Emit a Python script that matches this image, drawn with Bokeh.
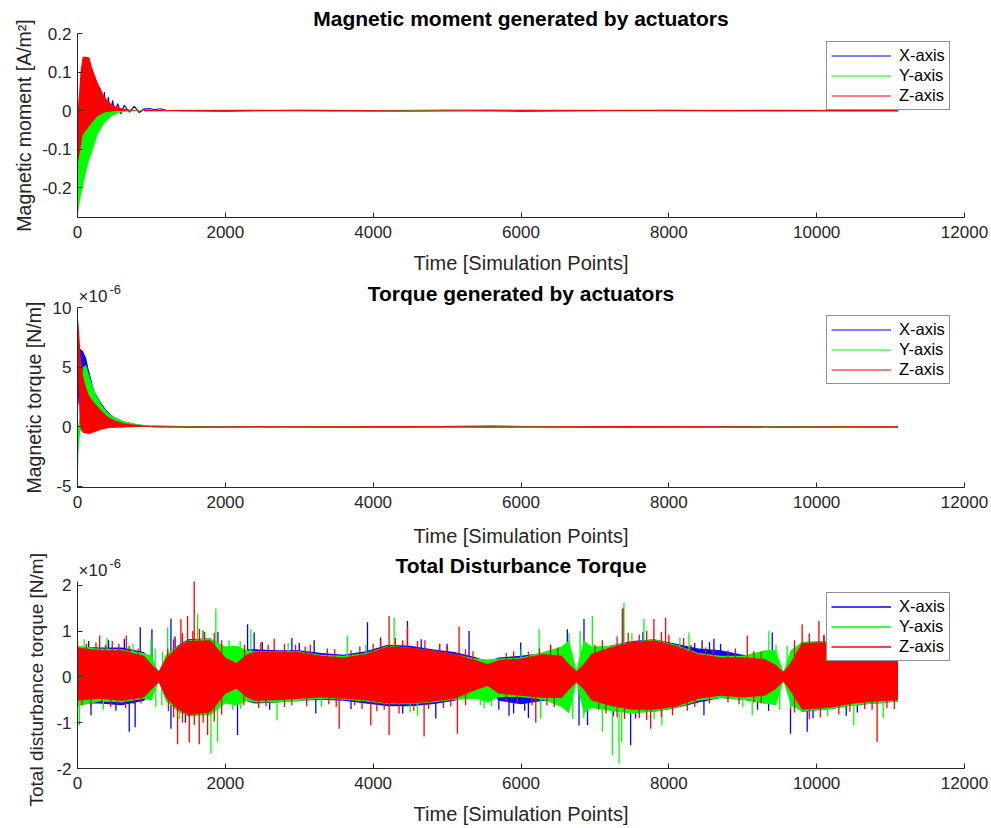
from bokeh.plotting import figure
from bokeh.layouts import column
from bokeh.models import (Range1d, FixedTicker, CustomJSTickFormatter, Legend,
                          LegendItem, Title)
from bokeh.core.properties import value
from bokeh.embed import file_html
from bokeh.resources import INLINE

# ---------------- data ----------------
X_TICKS = [0, 2000, 4000, 6000, 8000, 10000, 12000]
SERIES = ["X-axis", "Y-axis", "Z-axis"]

# Plot 1: magnetic moment [A/m^2]; dense oscillation bands (upper / lower envelope)
MM_BAND_X = [0, 20, 40, 70, 120, 160, 200, 272, 363, 453, 540, 650, 800, 900]
MM_Y_HI = [-0.10, -0.08, -0.06, -0.04, -0.02, -0.01, -0.004, 0.0, 0.004, 0.004, 0.003, 0.002, 0.001, 0.0]
MM_Y_LO = [-0.277, -0.25, -0.225, -0.20, -0.155, -0.127, -0.105, -0.062, -0.032, -0.016, -0.007, -0.003, -0.001, 0.0]
MM_Z_HI = [0.0, 0.04, 0.10, 0.14, 0.14, 0.138, 0.11, 0.073, 0.036, 0.018, 0.009, 0.004, 0.001, 0.0]
MM_Z_LO = [-0.14, -0.12, -0.10, -0.063, -0.05, -0.04, -0.03, -0.014, -0.005, -0.002, -0.001, 0.0, 0.0, 0.0]
# X-axis moment: slower decaying oscillation (peaks / troughs)
MM_X_X = [0, 8, 30, 55, 82, 110, 138, 165, 195, 222, 250, 280, 308, 331, 363, 390, 417, 444,
          475, 507, 543, 588, 633, 701, 768, 836, 900, 980, 1050, 1120, 1200, 1400, 2000, 3000,
          4000, 5000, 6000, 7000, 8000, 9000, 10000, 11100]
MM_X_Y = [0.005, -0.07, 0.04, -0.05, 0.06, -0.05, 0.065, -0.045, 0.065, -0.04, 0.062, -0.035,
          0.058, -0.031, 0.048, -0.025, 0.035, -0.016, 0.027, -0.010, 0.018, -0.008, 0.014,
          -0.004, 0.011, -0.005, 0.004, 0.005, 0.003, 0.005, 0.001, 0.0, -0.001, 0.001, 0.0,
          0.001, -0.001, 0.0, 0.001, 0.0, 0.0, 0.0]
MM_TAIL_X = [900, 1500, 2500, 3500, 4500, 5600, 6500, 7500, 8500, 9500, 10500, 11100]
MM_Y_TAIL = [0.0, 0.001, 0.0, -0.001, 0.0, 0.002, 0.0, 0.001, 0.0, -0.001, 0.0, 0.0]
MM_Z_TAIL = [0.0, 0.0, 0.001, 0.0, -0.001, 0.0, 0.001, 0.0, 0.0, 0.001, 0.0, 0.0]

# Plot 2: magnetic torque [x1e-6 N/m]
MT_BAND_X = [0, 15, 30, 45, 70, 115, 160, 228, 318, 408, 498, 633, 813, 1000]
MT_X_HI = [7.0, 6.8, 6.6, 6.5, 6.4, 5.8, 4.6, 3.0, 2.0, 1.3, 0.8, 0.45, 0.2, 0.1]
MT_X_LO = [1.5, 2.0, 3.5, 3.5, 3.0, 1.5, 0.6, 0.1, -0.1, -0.1, -0.05, -0.03, 0.0, 0.0]
MT_Y_HI = [-0.5, 0.2, 0.8, 2.5, 5.0, 5.2, 4.3, 3.0, 1.9, 1.2, 0.8, 0.45, 0.22, 0.1]
MT_Y_LO = [-5.1, -2.0, -0.8, -0.3, 0.0, 0.2, 0.1, 0.0, -0.05, -0.05, -0.02, 0.0, 0.0, 0.0]
MT_Z_HI = [9.4, 8.6, 7.2, 5.8, 4.4, 3.3, 2.6, 2.0, 1.4, 0.85, 0.55, 0.3, 0.15, 0.06]
MT_Z_LO = [6.5, 3.0, 0.5, -0.2, -0.5, -0.55, -0.6, -0.45, -0.25, -0.12, -0.05, -0.03, -0.02, 0.0]
MT_TAIL_X = [1000, 1500, 2500, 3500, 4500, 5600, 6500, 7500, 8500, 9500, 10500, 11100]
MT_X_TAIL = [0.05, 0.0, 0.02, -0.03, 0.0, 0.06, 0.0, -0.02, 0.0, 0.02, 0.0, 0.0]
MT_Y_TAIL = [0.08, 0.03, 0.0, 0.02, -0.02, 0.0, 0.03, 0.0, -0.02, 0.0, 0.02, 0.0]
MT_Z_TAIL = [0.0, -0.02, 0.0, 0.0, 0.02, -0.03, 0.0, 0.02, 0.0, -0.02, 0.0, 0.0]

# Plot 3: total disturbance torque [x1e-6 N/m]; solid core envelopes + spikes
TD_X = [0, 300, 600, 900, 1000, 1100, 1200, 1350, 1500, 1800, 2000, 2150, 2300, 2400, 2700,
        3000, 3300, 3600, 3900, 4200, 4500, 4800, 5100, 5400, 5550, 5700, 6000, 6300, 6550,
        6650, 6750, 6850, 6950, 7200, 7500, 7800, 8100, 8400, 8700, 9000, 9300, 9450, 9550,
        9650, 9800, 10200, 10500, 10800, 11100]
TD_X_HI = [0.66, 0.64, 0.64, 0.54, 0.35, 0.10, 0.46, 0.68, 0.82, 0.84, 0.52, 0.40, 0.60, 0.60,
           0.58, 0.58, 0.52, 0.48, 0.56, 0.70, 0.68, 0.60, 0.54, 0.42, 0.34, 0.42, 0.46, 0.52,
           0.52, 0.34, 0.14, 0.34, 0.56, 0.68, 0.78, 0.82, 0.72, 0.62, 0.58, 0.48, 0.42, 0.30,
           0.12, 0.38, 0.76, 0.78, 0.66, 0.60, 0.54]
TD_X_LO = [-0.58, -0.58, -0.62, -0.52, -0.35, -0.10, -0.52, -0.74, -0.86, -0.80, -0.42, -0.30,
           -0.54, -0.58, -0.56, -0.52, -0.50, -0.52, -0.58, -0.64, -0.64, -0.60, -0.52, -0.34,
           -0.28, -0.52, -0.60, -0.52, -0.52, -0.33, -0.12, -0.33, -0.58, -0.68, -0.76, -0.76,
           -0.68, -0.56, -0.46, -0.50, -0.58, -0.38, -0.10, -0.38, -0.76, -0.70, -0.62, -0.58, -0.54]
TD_Y_HI = [0.68, 0.62, 0.60, 0.52, 0.46, 0.08, 0.50, 0.66, 0.80, 0.84, 0.66, 0.68, 0.58, 0.56,
           0.56, 0.56, 0.48, 0.46, 0.52, 0.68, 0.64, 0.58, 0.50, 0.40, 0.38, 0.40, 0.42, 0.54,
           0.66, 0.80, 0.15, 0.80, 0.66, 0.68, 0.76, 0.82, 0.70, 0.52, 0.46, 0.46, 0.58, 0.58,
           0.10, 0.58, 0.76, 0.78, 0.66, 0.58, 0.52]
TD_Y_LO = [-0.64, -0.54, -0.56, -0.48, -0.52, -0.08, -0.54, -0.74, -0.86, -0.84, -0.58, -0.62,
           -0.52, -0.56, -0.56, -0.52, -0.48, -0.50, -0.54, -0.60, -0.60, -0.56, -0.50, -0.48,
           -0.56, -0.44, -0.44, -0.50, -0.66, -0.80, -0.12, -0.80, -0.68, -0.74, -0.80, -0.76,
           -0.68, -0.52, -0.46, -0.50, -0.58, -0.62, -0.08, -0.62, -0.76, -0.70, -0.62, -0.58, -0.54]
TD_Z_HI = [0.64, 0.58, 0.58, 0.46, 0.28, 0.12, 0.42, 0.64, 0.78, 0.80, 0.42, 0.30, 0.50, 0.55,
           0.55, 0.54, 0.46, 0.42, 0.50, 0.66, 0.64, 0.58, 0.50, 0.36, 0.28, 0.37, 0.40, 0.50,
           0.46, 0.28, 0.12, 0.28, 0.50, 0.64, 0.76, 0.80, 0.68, 0.50, 0.43, 0.43, 0.39, 0.26,
           0.10, 0.32, 0.74, 0.76, 0.64, 0.58, 0.50]
TD_Z_LO = [-0.52, -0.48, -0.52, -0.45, -0.28, -0.12, -0.46, -0.70, -0.84, -0.78, -0.37, -0.26,
           -0.46, -0.52, -0.51, -0.48, -0.45, -0.48, -0.51, -0.58, -0.58, -0.54, -0.48, -0.28,
           -0.20, -0.37, -0.41, -0.46, -0.46, -0.28, -0.12, -0.28, -0.51, -0.63, -0.72, -0.72,
           -0.65, -0.48, -0.41, -0.45, -0.41, -0.26, -0.10, -0.32, -0.72, -0.67, -0.58, -0.54, -0.51]
# spike tips (x, value) of the three series
TD_X_SPK_X = [183, 633, 700, 780, 849, 1007, 1264, 1264, 1700, 2165, 2301, 2390, 2900, 3202,
              3224, 3923, 4464, 4847, 5297, 5838, 5996, 6100, 6627, 6785, 6852, 6900, 7384,
              7483, 7550, 8475, 8610, 9399, 9646, 9872, 10097, 10400, 10700,
              150, 420, 520, 1320, 1460, 1900, 2500, 2600, 3000, 3700, 4100, 4400, 4650, 5000,
              5700, 5900, 6050, 6400, 7250, 7650, 8350, 8450, 8550, 8700, 9200, 9350, 9950,
              10250, 10550, 10950]
TD_X_SPK_Y = [-0.84, 0.83, -1.2, -1.1, 1.08, 1.04, 1.27, -1.13, 1.0, -1.27, 1.15, 0.97, 0.85,
              0.8, -0.8, 1.19, 1.22, -0.91, 1.0, -0.85, 0.75, -0.9, 1.04, -1.06, 1.26, -1.05,
              1.51, -1.49, -0.91, -0.84, 0.83, 0.97, -1.24, -1.2, 0.9, -0.85, 0.85,
              0.78, 0.80, -0.74, 0.88, -1.0, 0.98, 0.76, -0.72, 0.74, -0.70, 0.86, -0.80, 0.82,
              0.72, -0.72, -0.80, -0.74, 0.70, -0.86, 0.98, 0.74, 0.80, 0.76, 0.72, -0.72,
              -0.74, -0.90, 0.92, -0.78, 0.72]
TD_Y_SPK_X = [25, 400, 994, 1220, 1625, 1805, 1872, 1895, 2345, 2700, 3652, 4284, 4600, 6244,
              6266, 6965, 7101, 7236, 7326, 7362, 7393, 7663, 7906, 8272, 9128, 9353, 10502, 10900,
              90, 350, 750, 1050, 1060, 1150, 1140, 1380, 1700, 2050, 2100, 2200, 2210, 2850,
              3300, 3900, 4500, 4900, 5450, 5500, 5600, 6000, 6650, 6700, 6800, 6850, 7500,
              7800, 8150, 9000, 9450, 9500, 9600, 9650, 10150, 10650]
TD_Y_SPK_Y = [-1.06, 0.85, 0.83, 1.08, 1.37, -1.67, 1.49, -1.42, 1.04, -0.95, 0.9, 1.29, -0.85,
              1.04, -0.91, 1.33, -1.2, -1.71, -1.89, -1.42, 1.62, 1.26, -1.06, 0.97, -0.84, 1.0,
              -1.06, -0.9,
              0.82, -0.72, 0.72, 0.62, -0.65, 0.55, -0.62, -0.92, 1.02, 0.80, -0.72, 0.78, -0.70,
              0.74, -0.66, 0.70, -0.78, 0.72, -0.62, -0.68, -0.64, 0.60, 0.95, -0.92, 1.0, -0.90,
              0.95, -0.92, 0.86, -0.66, 0.70, -0.72, 0.68, -0.70, -0.86, 0.80]
TD_Z_SPK_X = [300, 660, 1354, 1399, 1489, 1512, 1579, 1647, 1760, 2661, 3540, 3968, 4216, 4216,
              4464, 4689, 5140, 5162, 6200, 7371, 7754, 7798, 7956, 9061, 9804, 10030, 10818,
              0, 120, 250, 380, 470, 560, 700, 820, 1220, 1300, 1420, 1560, 1650, 1720, 1850,
              1950, 2260, 2480, 2580, 2800, 2950, 3080, 3150, 3380, 3480, 3700, 3820, 4000,
              4100, 4300, 4400, 4600, 4700, 4900, 5000, 5250, 5350, 5800, 5900, 6100, 6250,
              6400, 6500, 7000, 7100, 7300, 7450, 7600, 7700, 7900, 8000, 8200, 8300, 8500,
              8600, 8800, 8900, 9150, 9250, 9700, 9900, 10100, 10300, 10400, 10600, 10700,
              10900, 11000, 11080,
              60, 180, 330, 450, 540, 650, 760, 860, 1230, 1300, 1420, 1580, 1700, 1850, 1950,
              2250, 2450, 2550, 2800, 2900, 3100, 3400, 3500, 3750, 3850, 4050, 4150, 4350,
              4550, 4750, 4950, 5050, 5250, 5800, 5950, 6150, 6350, 6450, 7050, 7150, 7300,
              7400, 7600, 7700, 7900, 8050, 8250, 8350, 8550, 8800, 8950, 9150, 9250, 9700,
              9900, 10050, 10300, 10450, 10650, 10750, 10950, 11050]
TD_Z_SPK_Y = [0.9, 0.9, -1.47, 1.26, 1.33, -1.43, 2.08, -1.47, -1.27, 0.83, -1.13, -1.06, 1.33,
              -1.27, 1.1, -1.3, -1.24, 1.1, -1.0, 1.48, -1.13, 1.26, 1.29, 0.9, 1.15, 1.22, -1.42,
              0.78, 0.72, 0.75, 0.70, 0.78, 0.72, 0.68, 0.62, 0.62, 0.82, 0.95, 1.0, 1.05, 0.98,
              0.96, 0.80, 0.70, 0.75, 0.70, 0.72, 0.70, 0.66, 0.70, 0.62, 0.60, 0.58, 0.66, 0.72,
              0.80, 0.85, 0.80, 0.78, 0.80, 0.72, 0.66, 0.60, 0.56, 0.52, 0.56, 0.55, 0.62,
              0.68, 0.64, 0.70, 0.80, 0.88, 0.96, 0.92, 1.0, 0.98, 0.92, 0.85, 0.70, 0.64,
              0.60, 0.58, 0.62, 0.56, 0.54, 0.80, 0.95, 0.92, 0.95, 0.85, 0.80, 0.74,
              0.70, 0.68, 0.66,
              -0.62, -0.66, -0.60, -0.66, -0.62, -0.68, -0.60, -0.58, -0.75, -0.88, -1.0, -1.05,
              -1.0, -0.98, -0.82, -0.62, -0.68, -0.64, -0.66, -0.62, -0.64, -0.60, -0.66, -0.62,
              -0.70, -0.75, -0.72, -0.80, -0.74, -0.70, -0.68, -0.64, -0.62, -0.55, -0.56, -0.62,
              -0.62, -0.66, -0.72, -0.80, -0.88, -0.92, -0.90, -0.94, -0.88, -0.84, -0.74, -0.66,
              -0.58, -0.56, -0.60, -0.56, -0.58, -0.78, -0.92, -0.88, -0.82, -0.76, -0.70, -0.72,
              -0.68, -0.70]

# ---------------- styling ----------------
FONT = "Liberation Sans"
AXC = "#262626"
BLUE, GREEN, RED = "#0000ff", "#00ff00", "#ff0000"
X_MID = (X_TICKS[0] + X_TICKS[-1]) / 2


def make_fig(height, top, bottom, y0, y1, yticks, ext_px=0):
    """Frame may extend ext_px pixels above the y axis (room for title / exponent)."""
    axis_px = height - top - bottom - ext_px
    y_end = y1 + (y1 - y0) * ext_px / axis_px
    p = figure(width=991, height=height, output_backend="svg", toolbar_location=None,
               x_range=Range1d(0, 12000), y_range=Range1d(y0, y_end),
               min_border_left=77, min_border_right=27, min_border_top=top,
               min_border_bottom=bottom)
    p.outline_line_color = None
    p.grid.visible = False
    for ax in (p.xaxis[0], p.yaxis[0]):
        ax.axis_line_color = AXC
        ax.major_tick_line_color = AXC
        ax.major_tick_in = 5
        ax.major_tick_out = 0
        ax.minor_tick_line_color = None
        ax.major_label_text_font = FONT
        ax.major_label_text_font_size = "17px"
        ax.major_label_text_color = AXC
        ax.axis_label_text_font = FONT
        ax.axis_label_text_font_style = "normal"
        ax.axis_label_text_color = AXC
    p.yaxis.bounds = (y0, y1)
    p.xaxis.axis_label_text_font_size = "20px"
    p.yaxis.axis_label_text_font_size = "19.5px"
    p.xaxis.ticker = FixedTicker(ticks=X_TICKS)
    p.yaxis.ticker = FixedTicker(ticks=yticks)
    fmt = "return String(Math.round(tick*1000)/1000);"
    p.xaxis.formatter = CustomJSTickFormatter(code=fmt)
    p.yaxis.formatter = CustomJSTickFormatter(code=fmt)
    p.xaxis.major_label_standoff = 8
    p.yaxis.major_label_standoff = 6
    p.xaxis.axis_label_standoff = 11
    p.yaxis.axis_label_standoff = 4
    p.xaxis.axis_label = "Time [Simulation Points]"
    return p


def title_text(p, y_top, text, dy):
    p.text(x=[X_MID], y=[y_top], text=[text], y_offset=-dy,
           text_font=value(FONT), text_font_size=value("21px"),
           text_font_style=value("bold"), text_color="#000000",
           text_align=value("center"), text_baseline=value("alphabetic"))


def exponent_text(p, y_top, dy):
    p.text(x=[X_TICKS[0]], y=[y_top], text=["×10"], x_offset=1, y_offset=-dy,
           text_font=value(FONT), text_font_size=value("17px"), text_color=AXC,
           text_align=value("left"), text_baseline=value("alphabetic"))
    p.text(x=[X_TICKS[0]], y=[y_top], text=["-6"], x_offset=32, y_offset=-dy - 7,
           text_font=value(FONT), text_font_size=value("13px"), text_color=AXC,
           text_align=value("left"), text_baseline=value("alphabetic"))


def side_ylabel(p, text, size, offset, standoff):
    p.add_layout(Title(text=text, align="left", offset=offset, standoff=standoff,
                       text_font=FONT, text_font_size=size, text_font_style="normal",
                       text_color=AXC), "left")


def add_legend(p, renderers, loc):
    items = [LegendItem(label=s, renderers=[r]) for s, r in zip(SERIES, renderers)]
    lg = Legend(items=items, location=loc)
    lg.label_text_font = FONT
    lg.label_text_font_size = "16.5px"
    lg.label_text_color = "#000000"
    lg.glyph_width = 60
    lg.glyph_height = 15
    lg.label_height = 15
    lg.spacing = 1
    lg.padding = 4
    lg.margin = 0
    lg.label_standoff = 8
    lg.border_line_color = AXC
    lg.border_line_width = 1
    lg.background_fill_alpha = 1
    p.add_layout(lg)


# ---- plot 1
p1 = make_fig(276, 32, 58, -0.277, 0.2, [-0.2, -0.1, 0, 0.1, 0.2])
p1.title.text = "Magnetic moment generated by actuators"
p1.title.align = "center"
p1.title.text_font = FONT
p1.title.text_font_size = "21px"
p1.title.text_font_style = "bold"
p1.title.text_color = "#000000"
p1.title.standoff = 8
p1.yaxis.axis_label = "Magnetic moment [A/m²]"
rb1 = p1.line(MM_X_X, MM_X_Y, line_color=BLUE, line_width=1.2)
p1.varea(x=MM_BAND_X, y1=MM_Y_LO, y2=MM_Y_HI, fill_color=GREEN)
rg1 = p1.line(MM_TAIL_X, MM_Y_TAIL, line_color=GREEN, line_width=1.2)
p1.varea(x=MM_BAND_X, y1=MM_Z_LO, y2=MM_Z_HI, fill_color=RED)
rr1 = p1.line(MM_TAIL_X, MM_Z_TAIL, line_color=RED, line_width=1.2)
add_legend(p1, [rb1, rg1, rr1], (749, 107))

# ---- plot 2
p2 = make_fig(273, 0, 58, -5.1, 10, [-5, 0, 5, 10], ext_px=32)
p2.xaxis.axis_label_standoff = 14
side_ylabel(p2, "Magnetic torque [N/m]", "19.5px", -6, 10)
p2.varea(x=MT_BAND_X, y1=MT_X_LO, y2=MT_X_HI, fill_color=BLUE)
rb2 = p2.line(MT_TAIL_X, MT_X_TAIL, line_color=BLUE, line_width=1.2)
p2.varea(x=MT_BAND_X, y1=MT_Y_LO, y2=MT_Y_HI, fill_color=GREEN)
rg2 = p2.line(MT_TAIL_X, MT_Y_TAIL, line_color=GREEN, line_width=1.2)
p2.varea(x=MT_BAND_X, y1=MT_Z_LO, y2=MT_Z_HI, fill_color=RED)
rr2 = p2.line(MT_TAIL_X, MT_Z_TAIL, line_color=RED, line_width=1.2)
add_legend(p2, [rb2, rg2, rr2], (749, 103))
title_text(p2, 10, "Torque generated by actuators", 14.5)
exponent_text(p2, 10, 11)

# ---- plot 3
p3 = make_fig(279, 0, 60, -2, 2.08, [-2, -1, 0, 1, 2], ext_px=32)
side_ylabel(p3, "Total disturbance torque [N/m]", "19px", -38, 14)
spk = []
for hi, lo, sx, sy, c in [(TD_X_HI, TD_X_LO, TD_X_SPK_X, TD_X_SPK_Y, BLUE),
                          (TD_Y_HI, TD_Y_LO, TD_Y_SPK_X, TD_Y_SPK_Y, GREEN),
                          (TD_Z_HI, TD_Z_LO, TD_Z_SPK_X, TD_Z_SPK_Y, RED)]:
    p3.varea(x=TD_X, y1=lo, y2=hi, fill_color=c)
    spk.append(p3.segment(x0=sx, y0=0, x1=sx, y1=sy, line_color=c, line_width=1.3))
add_legend(p3, spk, (749, 107))
title_text(p3, 2.08, "Total Disturbance Torque", 16.5)
exponent_text(p3, 2.08, 11)

layout = column(p1, p2, p3)
open("out.html", "w").write(file_html(layout, INLINE))
